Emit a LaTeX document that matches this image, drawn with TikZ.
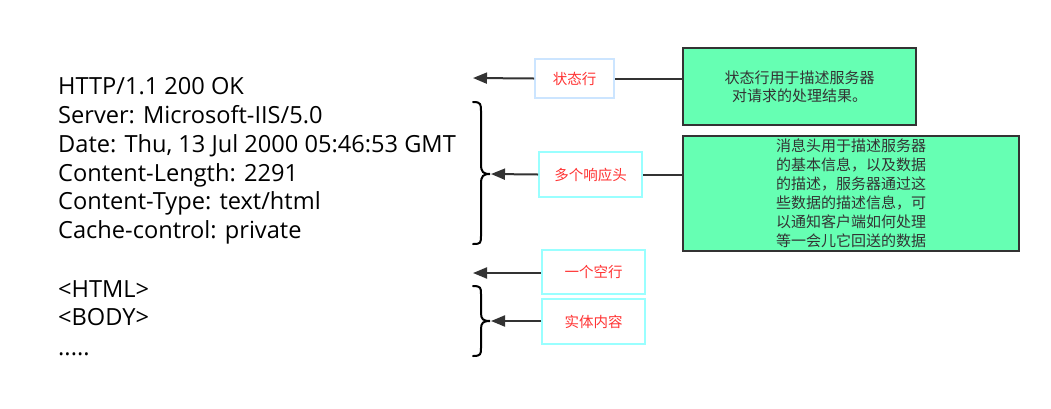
\documentclass[tikz,border=0pt]{standalone}
\usepackage{fontspec}
\setmainfont{Open Sans}
\newfontfamily\cjk{Noto Sans CJK SC}
\usetikzlibrary{arrows.meta}
\definecolor{lineg}{HTML}{333333}
\definecolor{mint}{HTML}{66FFB3}
\definecolor{redtxt}{HTML}{FF3333}
\definecolor{blueb}{HTML}{CCE5FF}
\definecolor{cyanb}{HTML}{99FFFF}
\tikzset{
  code/.style={anchor=base west, inner sep=0pt, font=\fontsize{23.6}{29}\selectfont},
  tagbox/.style={draw=#1, line width=2pt, fill=white, text=redtxt, font=\fontsize{14.5}{17}\cjk, inner sep=0pt},
  notebox/.style={draw=lineg, line width=2pt, fill=mint, text=lineg, align=center, inner sep=0pt},
  conn/.style={draw=lineg, line width=2pt},
  arr/.style={draw=lineg, line width=2pt, -{Triangle[length=14pt,width=11pt]}},
  brace/.style={draw=black, line width=2pt, line cap=round}
}
\begin{document}
\begin{tikzpicture}[x=1pt,y=-1pt]
\useasboundingbox (0,0) rectangle (1051,408);
% code lines
\node[code] (l1) at (58,94) {HTTP/1.1 200 OK};
\node[code] (l2) at (58,123) {Server: Microsoft-IIS/5.0};
\node[code] (l3) at (58,152) {Date: Thu, 13 Jul 2000 05:46:53 GMT};
\node[code] (l4) at (58,181) {Content-Length: 2291};
\node[code] (l5) at (58,209.5) {Content-Type: text/html};
\node[code] (l6) at (58,238.5) {Cache-control: private};
\node[code] (l7) at (58,297) {<HTML>};
\node[code] (l8) at (58,325.5) {<BODY>};
\node[code] (l9) at (58,355) {.....};
% tag boxes
\node[tagbox=blueb, minimum width=79pt, minimum height=39pt] (s1) at (574.5,78.5) {状态行};
\node[tagbox=cyanb, minimum width=103pt, minimum height=45pt] (s2) at (590.5,174.5) {多个响应头};
\node[tagbox=cyanb, minimum width=103pt, minimum height=44pt] (s3) at (593.5,272) {一个空行};
\node[tagbox=cyanb, minimum width=103pt, minimum height=45pt] (s4) at (593.5,321.5) {实体内容};
% note boxes
\node[notebox, minimum width=233pt, minimum height=77pt, font=\fontsize{15}{18}\cjk] (g1) at (799.5,86.5) {状态行用于描述服务器\\对请求的处理结果。};
\node[notebox, minimum width=336pt, minimum height=115pt, font=\fontsize{15}{19}\cjk] (g2) at (851,193) {消息头用于描述服务器\\的基本信息，以及数据\\的描述，服务器通过这\\些数据的描述信息，可\\以通知客户端如何处理\\等一会儿它回送的数据};
% arrow endpoints
\coordinate (a1) at (473,78);
\coordinate (a2) at (491,174);
\coordinate (a3) at (473,273);
\coordinate (a4) at (491,321);
% connectors
\draw[conn] (g1.west |- s1.east) -- (s1.east);
\draw[conn] (g2.west |- s2.east) -- (s2.east);
\draw[arr] (s1.west) -- (a1);
\draw[arr] (s2.west) -- (a2);
\draw[arr] (s3.west |- a3) -- (a3);
\draw[arr] (s4.west |- a4) -- (a4);
% braces
\draw[brace] (473,102) .. controls (481,102) and (481,104) .. (481,112) -- (481,164) .. controls (481,172) and (483,174) .. (490,174)
  .. controls (483,174) and (481,176) .. (481,184) -- (481,235) .. controls (481,243) and (481,244) .. (473,244);
\draw[brace] (473,286) .. controls (481,286) and (481,288) .. (481,294) -- (481,313) .. controls (481,319) and (483,321) .. (490,321)
  .. controls (483,321) and (481,323) .. (481,329) -- (481,348) .. controls (481,354) and (481,356) .. (473,356);
\end{tikzpicture}
\end{document}
